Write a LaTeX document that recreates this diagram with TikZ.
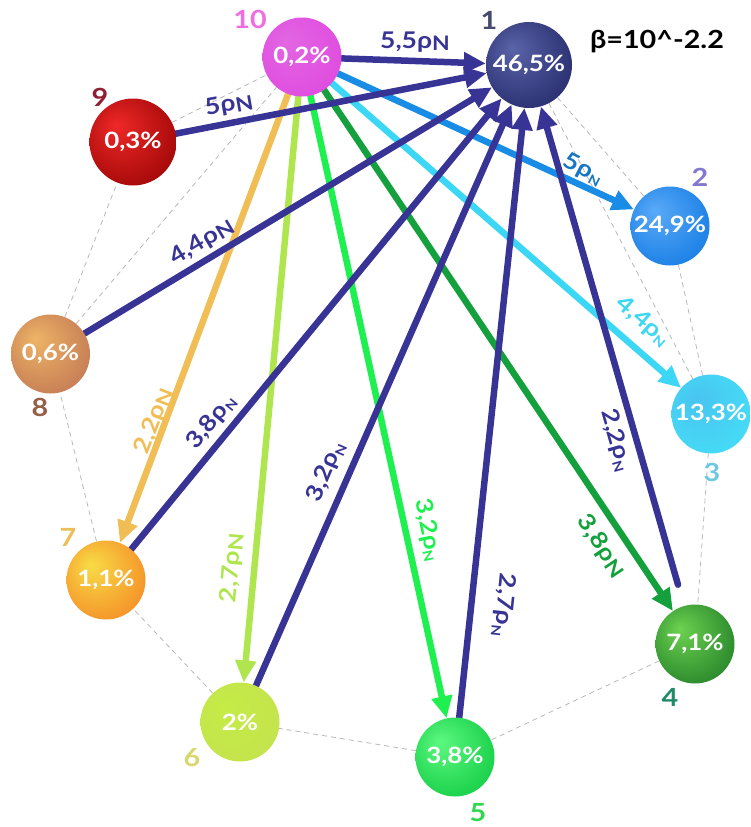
\documentclass[tikz,border=0pt]{standalone}
\usepackage{fontspec}
\setmainfont[FakeStretch=1.15]{Lato}
\usetikzlibrary{arrows.meta}
\pgfdeclarelayer{bg}
\pgfsetlayers{bg,main}
\definecolor{navy}{RGB}{56,52,150}
\definecolor{cblue}{RGB}{25,140,230}
\definecolor{ccyan}{RGB}{60,215,245}
\definecolor{cgreen}{RGB}{20,160,60}
\definecolor{cbright}{RGB}{30,240,80}
\definecolor{cyg}{RGB}{175,230,80}
\definecolor{corange}{RGB}{240,190,85}
\definecolor{sphin}{HTML}{FFFFFF}
\definecolor{sphout}{HTML}{888888}
\definecolor{sphedge}{HTML}{444444}
\pgfdeclareradialshading[sphin,sphout,sphedge]{sphere}{\pgfpoint{-10bp}{10bp}}{color(0bp)=(sphin); color(30bp)=(sphout); color(50bp)=(sphedge)}
\newcommand\rs{ρ\raisebox{-0.3ex}{\fontsize{13}{13}\selectfont N}}
\newcommand\rl{ρ\raisebox{-0.2ex}{\fontsize{20}{20}\selectfont N}}
\tikzset{
  sph/.style n args={3}{circle, inner sep=0pt, minimum size=79pt,
    /utils/exec={\definecolor{sphin}{HTML}{#1}\definecolor{sphout}{HTML}{#2}\definecolor{sphedge}{HTML}{#3}},
    shade, shading=sphere, text=white, font=\fontsize{22.5}{22.5}\selectfont\bfseries},
  num/.style={font=\fontsize{25}{25}\selectfont\bfseries, inner sep=0pt},
  elab/.style={font=\fontsize{23}{23}\selectfont\bfseries, inner sep=0pt},
  arr/.style={line width=6.5pt, line cap=round, -{Triangle[length=22pt,width=20pt]}},
  ring/.style={draw=black!28, line width=0.8pt, dash pattern=on 5pt off 4pt},
}
\begin{document}
\begin{tikzpicture}[x=1pt,y=-1pt]
\useasboundingbox (0,0) rectangle (751,827);
% nodes
\node[sph={5A64A8}{2C3274}{1C2050}, minimum size=86pt] (n1) at (529,65) {46,5\%};
\node[sph={5AAAF8}{1E82E6}{1670D0}] (n2) at (670,226) {24,9\%};
\node[sph={48C4F0}{46DAF6}{4CE0F6}] (n3) at (711,414) {13,3\%};
\node[sph={6CD250}{2E8C2E}{1E6A1E}] (n4) at (695,644) {7,1\%};
\node[sph={5CF880}{1CD24C}{18C044}] (n5) at (455,757) {3,8\%};
\node[sph={C4EC46}{C4E44C}{C8E058}] (n6) at (240,722) {2\%};
\node[sph={F8DC46}{F5962A}{F29028}] (n7) at (106,580) {1,1\%};
\node[sph={EEB466}{C88056}{BC7058}] (n8) at (50.5,354) {0,6\%};
\node[sph={F02828}{A80A0A}{6A0000}, minimum size=87pt] (n9) at (133,142) {0,3\%};
\node[sph={E266E2}{E04EE0}{DC48DC}] (n10) at (302,57) {0,2\%};
\begin{pgfonlayer}{bg}
% dashed ring
\draw[ring] (n1) -- (n2);
\draw[ring] (n1) -- (n3);
\draw[ring] (n2) -- (n3);
\draw[ring] (n3) -- (n4);
\draw[ring] (n4) -- (n5);
\draw[ring] (n5) -- (n6);
\draw[ring] (n6) -- (n7);
\draw[ring] (n7) -- (n8);
\draw[ring] (n8) -- (n9);
\draw[ring] (n8) -- (n10);
\draw[ring] (n9) -- (n10);
% coloured arrows out of 10
\draw[arr, corange] (n10) -- (n7);
\draw[arr, cyg] (n10) -- (n6);
\draw[arr, cbright] (n10) -- (n5);
\draw[arr, cgreen] (n10) -- (n4);
\draw[arr, ccyan] (n10) -- (n3);
\draw[arr, cblue] (n10) -- (n2);
% navy arrows into 1
\draw[arr, navy] (n10) -- (n1);
\draw[arr, navy] (n9) -- (n1);
\draw[arr, navy] (n8) -- (n1);
\draw[arr, navy] (n7) -- (n1);
\draw[arr, navy] (n6) -- (n1);
\draw[arr, navy] (n5) -- (n1);
\draw[arr, navy, shorten <=22pt] (n4) -- (n1);
\end{pgfonlayer}
% edge labels
\node[elab, text=navy] (l1) at (415,42) {5,5\rl};
\node[elab, text=navy, rotate=10] (l2) at (229,105) {5\rl};
\node[elab, text=navy, rotate=31] (l3) at (202,242) {4,4\rl};
\node[elab, text=navy, rotate=51] (l4) at (211,422) {3,8\rs};
\node[elab, text=navy, rotate=67] (l5) at (326,472) {3,2\rs};
\node[elab, text=navy, rotate=-96] (l6) at (504,605) {2,7\rs};
\node[elab, text=navy, rotate=-74] (l7) at (616,440) {2,2\rs};
\node[elab, text=cblue!85!black, rotate=-27] (l8) at (583,169) {5\rs};
\node[elab, text=ccyan, rotate=-41] (l9) at (643,321) {4,4\rs};
\node[elab, text=cgreen, rotate=-56] (l10) at (601,546) {3,8\rl};
\node[elab, text=cbright, rotate=-78] (l11) at (428,530) {3,2\rs};
\node[elab, text=cyg, rotate=85] (l12) at (232,568) {2,7\rl};
\node[elab, text=corange, rotate=69] (l13) at (154,421) {2,2\rl};
% number labels
\node[num, text={rgb,255:red,70;green,75;blue,110}] (k1) at (489,20) {1};
\node[num, text={rgb,255:red,130;green,120;blue,210}] (k2) at (700,177) {2};
\node[num, text={rgb,255:red,110;green,200;blue,225}] (k3) at (712,472) {3};
\node[num, text={rgb,255:red,30;green,140;blue,100}] (k4) at (670,697) {4};
\node[num, text={rgb,255:red,50;green,215;blue,80}] (k5) at (478,813) {5};
\node[num, text={rgb,255:red,215;green,215;blue,110}] (k6) at (192,758) {6};
\node[num, text={rgb,255:red,235;green,190;blue,90}] (k7) at (68,537) {7};
\node[num, text={rgb,255:red,150;green,95;blue,70}] (k8) at (40,407) {8};
\node[num, text={rgb,255:red,145;green,30;blue,50}] (k9) at (100,97) {9};
\node[num, text={rgb,255:red,240;green,110;blue,225}] (k10) at (250,19) {10};
\node[num, text=black] (beta) at (657,42) {β=10\^{}-2.2};
\end{tikzpicture}
\end{document}
